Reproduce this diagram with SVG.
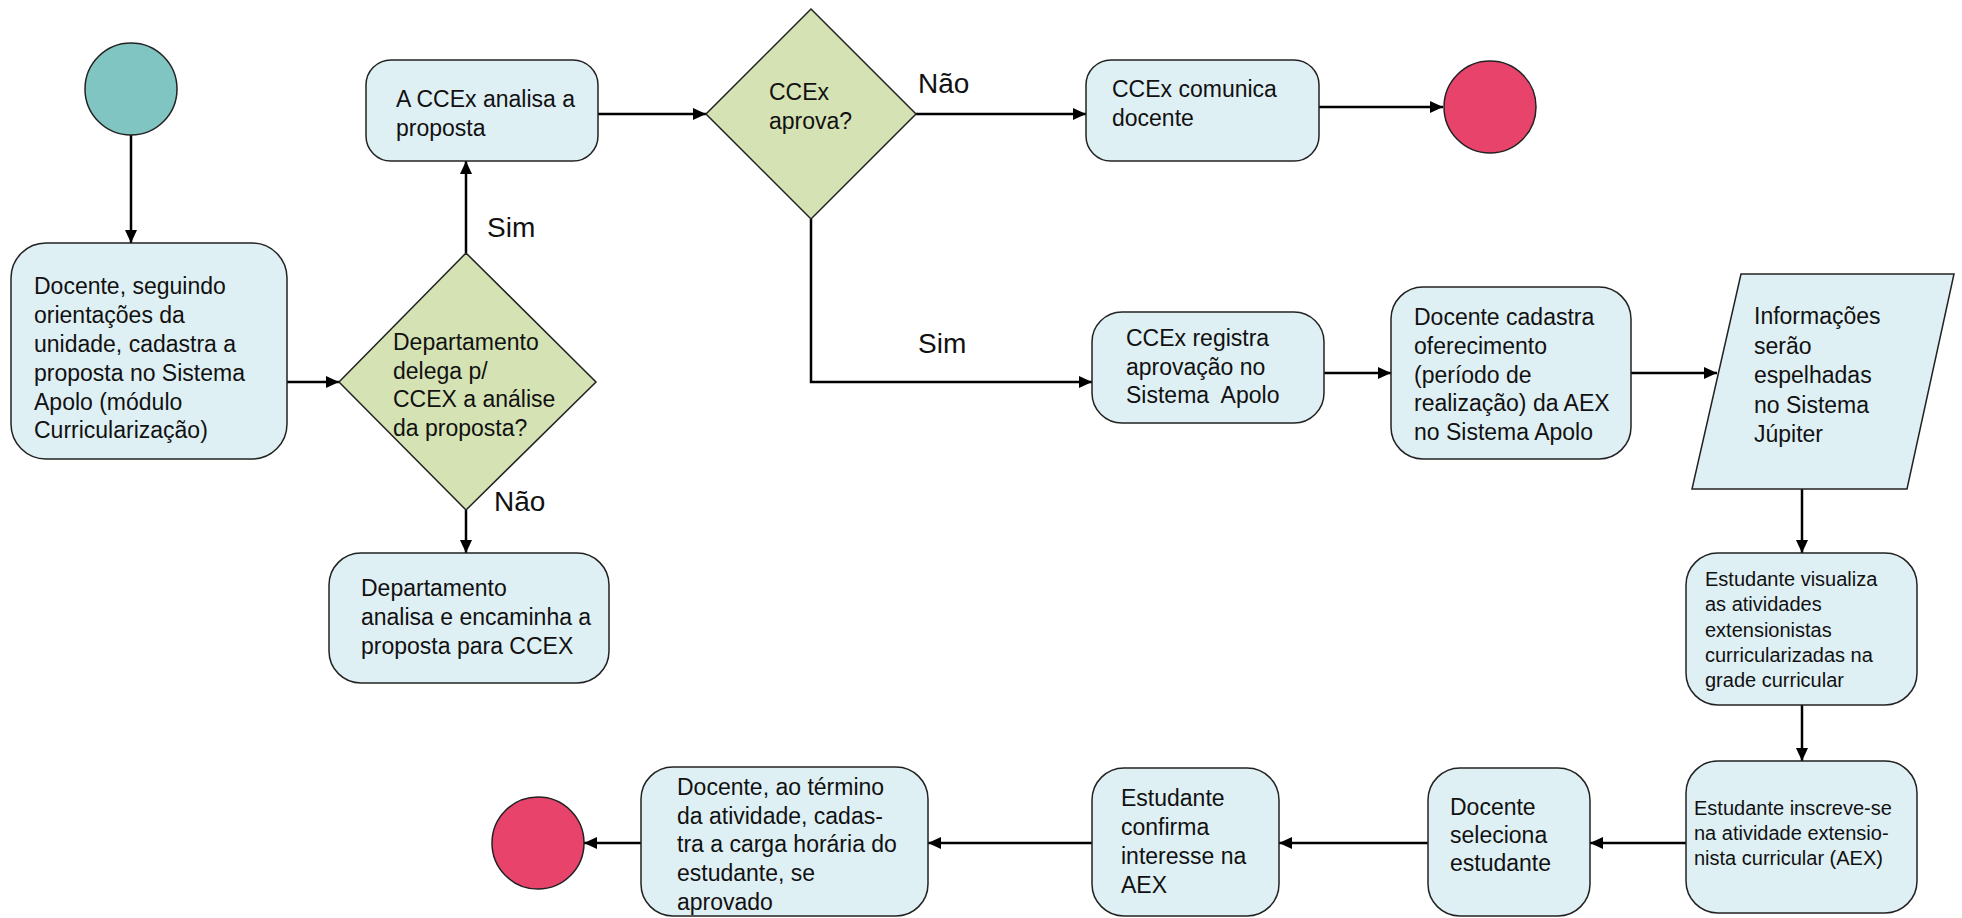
<svg xmlns="http://www.w3.org/2000/svg" width="1962" height="918" viewBox="0 0 1962 918">
<defs>
<marker id="arr" markerUnits="userSpaceOnUse" markerWidth="14" markerHeight="14" refX="13" refY="7" orient="auto">
<path d="M0,1 L13,7 L0,13 Z" fill="#000"/>
</marker>
<style>
.box{fill:#DFF0F4;stroke:#222;stroke-width:1.5}
.dia{fill:#D5E3B4;stroke:#222;stroke-width:1.5}
.start{fill:#80C5C1;stroke:#222;stroke-width:1.5}
.end{fill:#E8436A;stroke:#222;stroke-width:1.5}
.t{font-family:"Liberation Sans",Arial,sans-serif;font-size:23px;fill:#111}
.s{font-family:"Liberation Sans",Arial,sans-serif;font-size:20px;fill:#111}
.lbl{font-family:"Liberation Sans",Arial,sans-serif;font-size:28px;fill:#111}
.c{fill:none;stroke:#000;stroke-width:2.5;marker-end:url(#arr)}
</style>
</defs>
<rect width="1962" height="918" fill="#fff"/>

<g id="connectors">
<path class="c" d="M131,135 L131,243"/>
<path class="c" d="M287,382 L339,382"/>
<path class="c" d="M466,253 L466,161"/>
<path class="c" d="M466,510 L466,553"/>
<path class="c" d="M598,114 L706,114"/>
<path class="c" d="M916,114 L1086,114"/>
<path class="c" d="M1319,107 L1443,107"/>
<path class="c" d="M811,219 L811,382 L1092,382"/>
<path class="c" d="M1324,373 L1391,373"/>
<path class="c" d="M1631,373 L1717,373"/>
<path class="c" d="M1802,489 L1802,553"/>
<path class="c" d="M1802,705 L1802,761"/>
<path class="c" d="M1686,843 L1590,843"/>
<path class="c" d="M1428,843 L1279,843"/>
<path class="c" d="M1092,843 L928,843"/>
<path class="c" d="M641,843 L584,843"/>
<text class="lbl" x="487" y="237">Sim</text>
<text class="lbl" x="494" y="511">Não</text>
<text class="lbl" x="918" y="93">Não</text>
<text class="lbl" x="918" y="353">Sim</text>
</g>

<g id="start">
<circle class="start" cx="131" cy="89" r="46"/>
</g>

<g id="cadastra">
<rect class="box" x="11" y="243" width="276" height="216" rx="35"/>
<text class="t" x="34" y="294">Docente, seguindo</text>
<text class="t" x="34" y="323">orientações da</text>
<text class="t" x="34" y="352">unidade, cadastra a</text>
<text class="t" x="34" y="381">proposta no Sistema</text>
<text class="t" x="34" y="410">Apolo (módulo</text>
<text class="t" x="34" y="438">Curricularização)</text>
</g>

<g id="delega">
<polygon class="dia" points="466,253 596,382 466,510 339,382"/>
<text class="t" x="393" y="350">Departamento</text>
<text class="t" x="393" y="379">delega p/</text>
<text class="t" x="393" y="407">CCEX a análise</text>
<text class="t" x="393" y="436">da proposta?</text>
</g>

<g id="dept-analisa">
<rect class="box" x="329" y="553" width="280" height="130" rx="32"/>
<text class="t" x="361" y="596">Departamento</text>
<text class="t" x="361" y="625">analisa e encaminha a</text>
<text class="t" x="361" y="654">proposta para CCEX</text>
</g>

<g id="ccex-analisa">
<rect class="box" x="366" y="60" width="232" height="101" rx="25"/>
<text class="t" x="396" y="107">A CCEx analisa a</text>
<text class="t" x="396" y="136">proposta</text>
</g>

<g id="ccex-aprova">
<polygon class="dia" points="811,9 916,114 811,219 706,114"/>
<text class="t" x="769" y="100">CCEx</text>
<text class="t" x="769" y="129">aprova?</text>
</g>

<g id="ccex-comunica">
<rect class="box" x="1086" y="60" width="233" height="101" rx="25"/>
<text class="t" x="1112" y="97">CCEx comunica</text>
<text class="t" x="1112" y="126">docente</text>
</g>

<g id="end1">
<circle class="end" cx="1490" cy="107" r="46"/>
</g>

<g id="ccex-registra">
<rect class="box" x="1092" y="312" width="232" height="111" rx="30"/>
<text class="t" x="1126" y="346">CCEx registra</text>
<text class="t" x="1126" y="375">aprovação no</text>
<text class="t" x="1126" y="403" xml:space="preserve">Sistema  Apolo</text>
</g>

<g id="docente-cadastra">
<rect class="box" x="1391" y="287" width="240" height="172" rx="32"/>
<text class="t" x="1414" y="325">Docente cadastra</text>
<text class="t" x="1414" y="354">oferecimento</text>
<text class="t" x="1414" y="383">(período de</text>
<text class="t" x="1414" y="411">realização) da AEX</text>
<text class="t" x="1414" y="440">no Sistema Apolo</text>
</g>

<g id="jupiter">
<polygon class="box" points="1741,274 1954,274 1907,489 1692,489"/>
<text class="t" x="1754" y="324">Informações</text>
<text class="t" x="1754" y="354">serão</text>
<text class="t" x="1754" y="383">espelhadas</text>
<text class="t" x="1754" y="413">no Sistema</text>
<text class="t" x="1754" y="442">Júpiter</text>
</g>

<g id="visualiza">
<rect class="box" x="1686" y="553" width="231" height="152" rx="32"/>
<text class="s" x="1705" y="586">Estudante visualiza</text>
<text class="s" x="1705" y="611">as atividades</text>
<text class="s" x="1705" y="637">extensionistas</text>
<text class="s" x="1705" y="662">curricularizadas na</text>
<text class="s" x="1705" y="687">grade curricular</text>
</g>

<g id="inscreve">
<rect class="box" x="1686" y="761" width="231" height="152" rx="32"/>
<text class="s" x="1694" y="815">Estudante inscreve-se</text>
<text class="s" x="1694" y="840">na atividade extensio-</text>
<text class="s" x="1694" y="865">nista curricular (AEX)</text>
</g>

<g id="seleciona">
<rect class="box" x="1428" y="768" width="162" height="148" rx="32"/>
<text class="t" x="1450" y="815">Docente</text>
<text class="t" x="1450" y="843">seleciona</text>
<text class="t" x="1450" y="871">estudante</text>
</g>

<g id="confirma">
<rect class="box" x="1092" y="768" width="187" height="148" rx="32"/>
<text class="t" x="1121" y="806">Estudante</text>
<text class="t" x="1121" y="835">confirma</text>
<text class="t" x="1121" y="864">interesse na</text>
<text class="t" x="1121" y="893">AEX</text>
</g>

<g id="carga">
<rect class="box" x="641" y="767" width="287" height="149" rx="32"/>
<text class="t" x="677" y="795">Docente, ao término</text>
<text class="t" x="677" y="824">da atividade, cadas-</text>
<text class="t" x="677" y="852">tra a carga horária do</text>
<text class="t" x="677" y="881">estudante, se</text>
<text class="t" x="677" y="910">aprovado</text>
</g>

<g id="end2">
<circle class="end" cx="538" cy="843" r="46"/>
</g>
</svg>
